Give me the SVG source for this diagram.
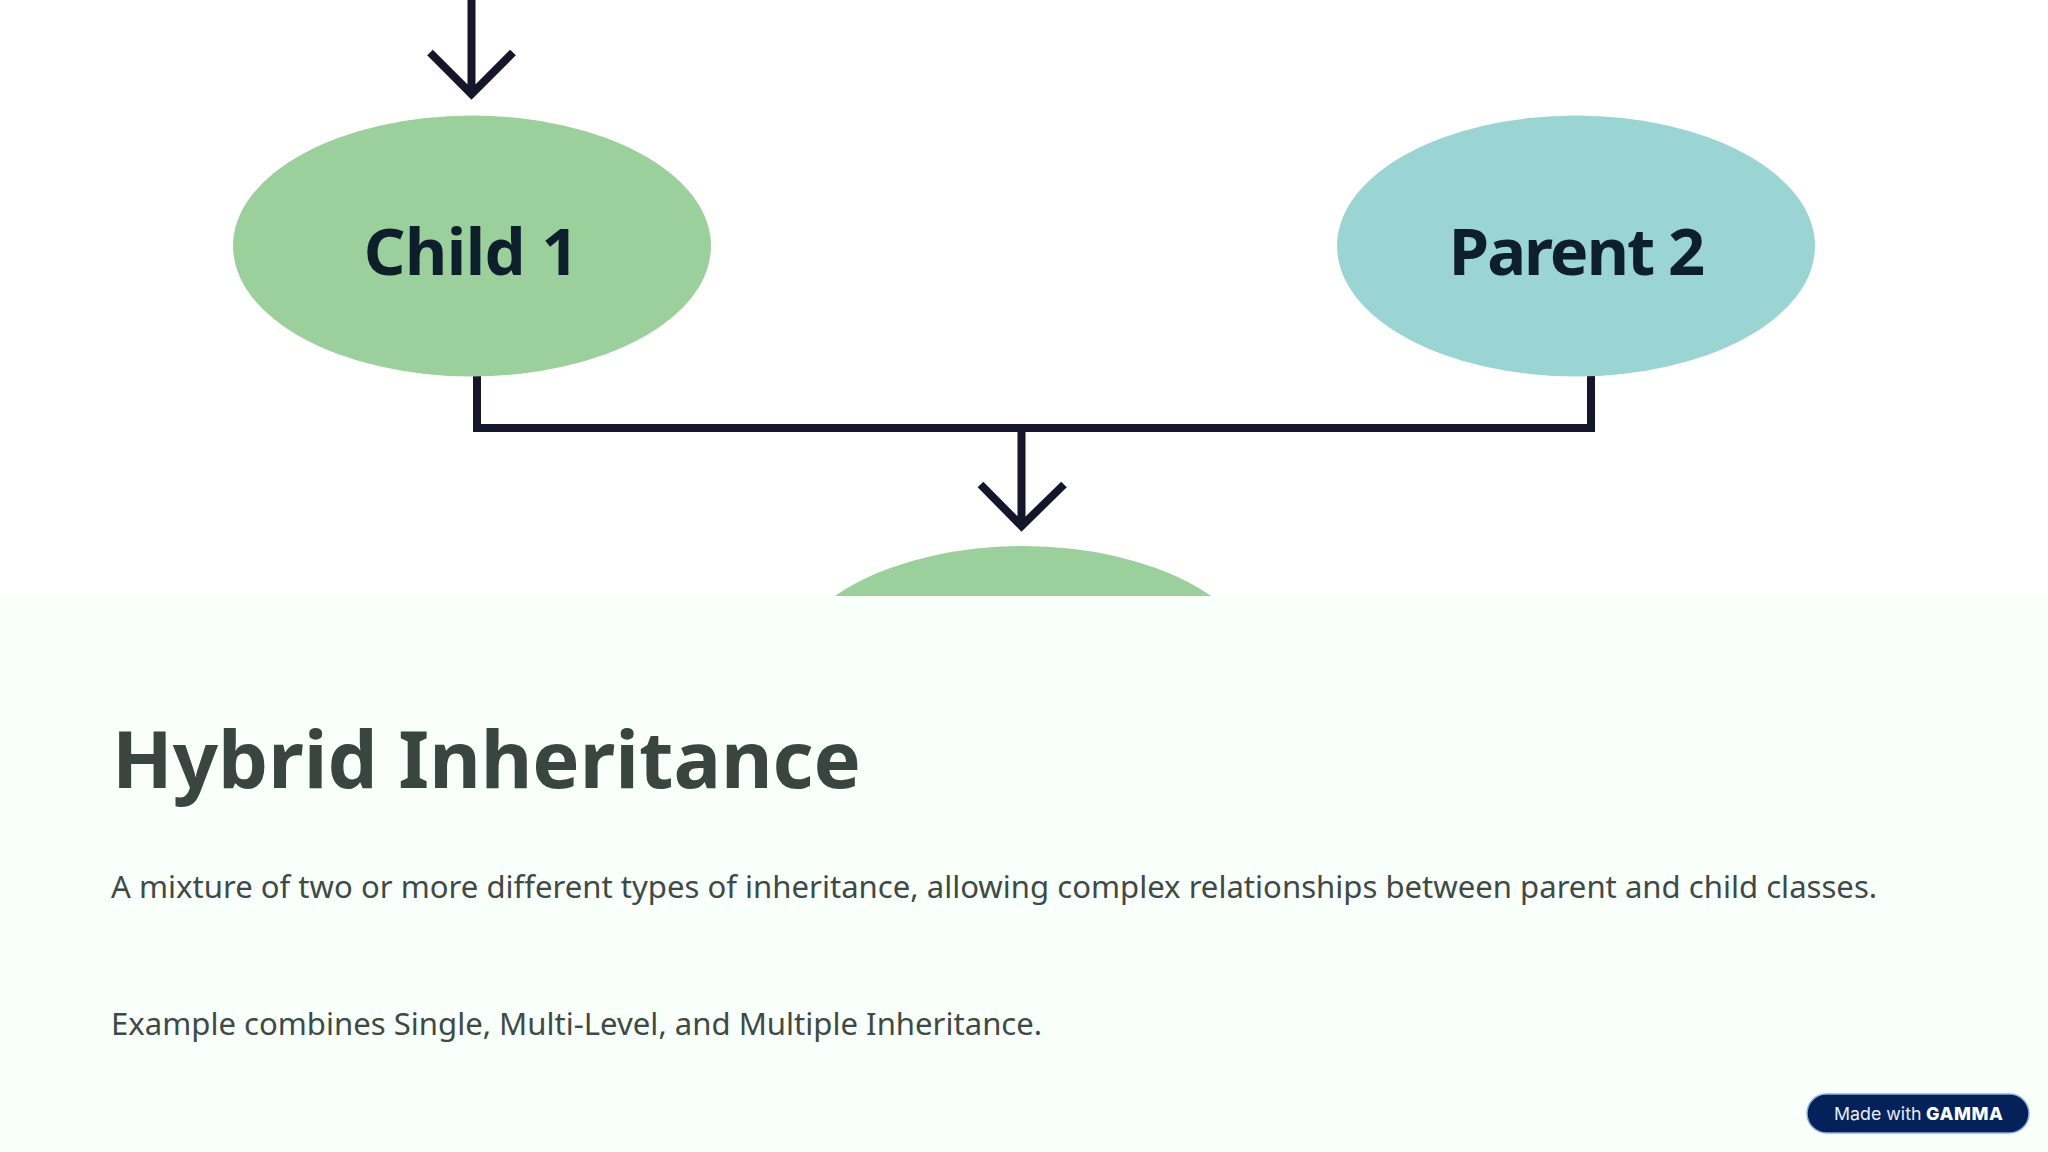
<svg xmlns="http://www.w3.org/2000/svg" width="2048" height="1152" viewBox="0 0 2048 1152">
<style>
.c{fill:none;stroke:#15162a;stroke-width:8}
.n{font-family:"Noto Sans",sans-serif;font-weight:700;font-size:65px;fill:#0c1f2a;text-anchor:middle}
.b{font-family:"Noto Sans",sans-serif;font-size:31.100px;fill:#3f4a46}
</style>
<rect width="2048" height="1152" fill="#fff"/>
<g id="connectors">
<path class="c" d="M471.500 0V94M430 52.500L471.500 94L513 52.500"/>
<path class="c" d="M477 376V428H1591V376"/>
<path class="c" d="M1021.500 428V526M980.500 484.500L1021.500 526L1064 484.500"/>
</g>
<g id="child-1"><ellipse cx="472" cy="246" rx="239" ry="130.500" fill="#9bcf9c"/><text class="n" x="471" y="275" letter-spacing="-0.500">Child 1</text></g>
<g id="parent-2"><ellipse cx="1576" cy="246" rx="239" ry="130.500" fill="#9ad5d3"/><text class="n" x="1576" y="275" letter-spacing="-2">Parent 2</text></g>
<g id="child-bottom"><ellipse cx="1023" cy="676.500" rx="239" ry="130.500" fill="#9bcf9c"/></g>
<rect id="panel" y="596" width="2048" height="556" fill="#f9fffb"/>
<text x="112" y="788" font-family="'Noto Sans',sans-serif" font-weight="700" font-size="79.400" fill="#3a4541">Hybrid Inheritance</text>
<text class="b" x="111" y="897.500">A mixture of two or more different types of inheritance, allowing complex relationships between parent and child classes.</text>
<text class="b" x="111" y="1034.500">Example combines Single, Multi-Level, and Multiple Inheritance.</text>
<g id="badge"><rect x="1807" y="1094" width="222" height="39" rx="19.500" fill="#04215a" stroke="#8fb0dc" stroke-width="1.500"/>
<text x="1834" y="1120" font-family="Inter,sans-serif" font-size="17.800" fill="#e8eef8">Made with</text>
<text x="1926" y="1120" font-family="Inter,sans-serif" font-weight="800" font-size="18" letter-spacing="0.600" fill="#fff">GAMMA</text></g>
</svg>
